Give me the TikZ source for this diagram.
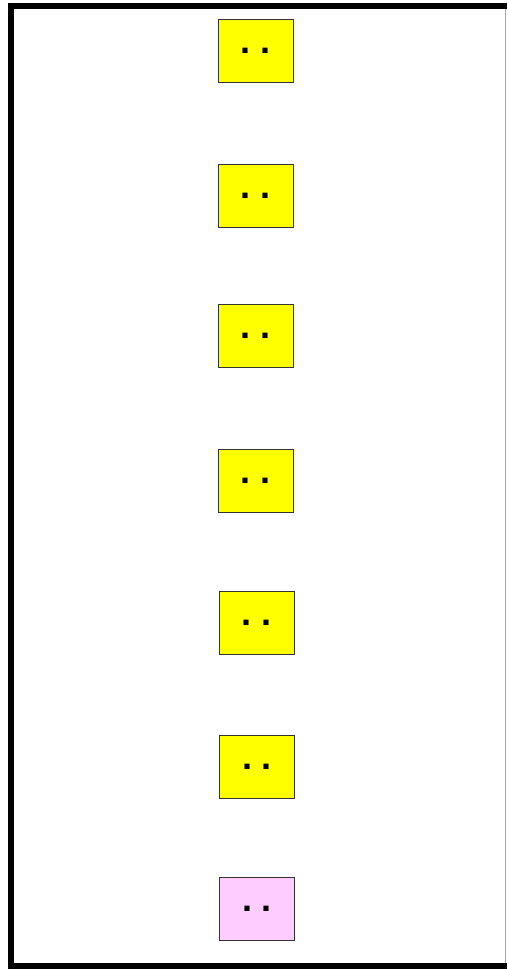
\documentclass[tikz,border=0pt]{standalone}
\usepackage{fontspec}
\setmainfont{Liberation Sans}
\definecolor{boxyellow}{HTML}{FFFF00}
\definecolor{boxpink}{HTML}{FFCCFF}
\definecolor{boxedge}{HTML}{333333}
\begin{document}
\begin{tikzpicture}[x=1pt,y=-1pt,
  stage/.style={draw=boxedge, line width=1pt, fill=boxyellow, minimum width=75pt, minimum height=63pt, inner sep=0pt, font=\fontsize{36}{36}\selectfont\bfseries},
  stagepink/.style={stage, fill=boxpink}]
\useasboundingbox (0,0) rectangle (507,969);
\fill[white] (0,0) rectangle (507,969);
% frame
\draw[gray!70, line width=1.2pt] (505.5,6) -- (505.5,966);
\draw[line width=6pt] (11,969) -- (11,3);
\draw[line width=6pt] (8,6) -- (507,6);
\draw[line width=6pt] (8,966) -- (507,966);
% boxes
\node[stage] (b1) at (255.5,50.5) {.~.};
\node[stage] (b2) at (255.5,195.5) {.~.};
\node[stage] (b3) at (255.5,336) {.~.};
\node[stage] (b4) at (255.5,480.5) {.~.};
\node[stage] (b5) at (256.5,622.5) {.~.};
\node[stage] (b6) at (257,766.5) {.~.};
\node[stagepink] (b7) at (257,908.5) {.~.};
\end{tikzpicture}
\end{document}
